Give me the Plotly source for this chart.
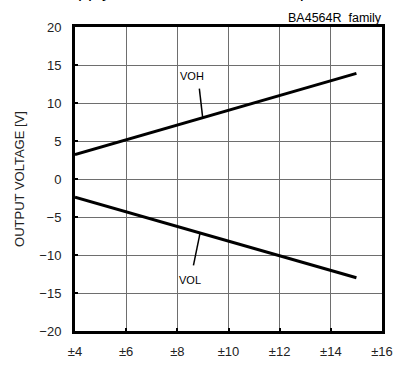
import plotly.graph_objects as go

supply_v = [4, 15]
voh = [3.2, 13.9]
vol = [-2.4, -13.0]

x_ticks = [4, 6, 8, 10, 12, 14, 16]
x_tick_labels = ["±4", "±6", "±8", "±10", "±12", "±14", "±16"]
y_ticks = [-20, -15, -10, -5, 0, 5, 10, 15, 20]

FONT = "Liberation Sans, Arial"

fig = go.Figure()
fig.add_trace(go.Scatter(x=supply_v, y=voh, mode="lines",
                         line=dict(color="black", width=3), showlegend=False))
fig.add_trace(go.Scatter(x=supply_v, y=vol, mode="lines",
                         line=dict(color="black", width=3), showlegend=False))

# leader lines
fig.add_shape(type="line", x0=8.86, y0=11.9, x1=8.99, y1=8.1,
              line=dict(color="black", width=1.5))
fig.add_shape(type="line", x0=8.63, y0=-11.36, x1=8.89, y1=-7.1,
              line=dict(color="black", width=1.5))

fig.add_annotation(x=8.58, y=13.5, text="VOH", showarrow=False,
                   font=dict(family=FONT, size=11, color="black"))
fig.add_annotation(x=8.5, y=-13.3, text="VOL", showarrow=False,
                   font=dict(family=FONT, size=11, color="black"))

fig.add_annotation(xref="paper", yref="paper", x=1.005, y=1.0, yanchor="bottom",
                   xanchor="right", yshift=0, text="BA4564R  family", showarrow=False,
                   font=dict(family=FONT, size=12.5, color="black"))

# cut-off caption at very top
fig.add_annotation(xref="paper", yref="paper", x=-0.07, y=1.0, yanchor="bottom",
                   xanchor="left", yshift=24, text="Supply Current – Ambient Temperature",
                   showarrow=False,
                   font=dict(family=FONT, size=18, color="black"))

axis_common = dict(showline=True, linecolor="black", linewidth=3, mirror=True,
                   showgrid=True, gridcolor="#6e6e6e", gridwidth=1.3,
                   ticks="inside", ticklen=3, tickwidth=2, tickcolor="black",
                   zeroline=False, automargin=False,
                   tickfont=dict(family=FONT, size=13, color="#222"))

fig.update_xaxes(range=[4, 16], tickvals=x_ticks, ticktext=x_tick_labels,
                 ticklabelstandoff=6, **axis_common)
fig.update_yaxes(range=[-20, 20], tickvals=y_ticks, ticklabelstandoff=8,
                 title=dict(text="OUTPUT VOLTAGE [V]", standoff=12,
                            font=dict(family=FONT, size=13, color="#222")),
                 **axis_common)

fig.update_layout(width=393, height=365,
                  margin=dict(l=75, r=11, t=27, b=34),
                  paper_bgcolor="white", plot_bgcolor="white")

# remove the default 8px body margin so the figure fills the window
fig.write_html("out.html", config={"displayModeBar": False},
               post_script="document.body.style.margin='0';document.body.style.overflow='hidden';")
